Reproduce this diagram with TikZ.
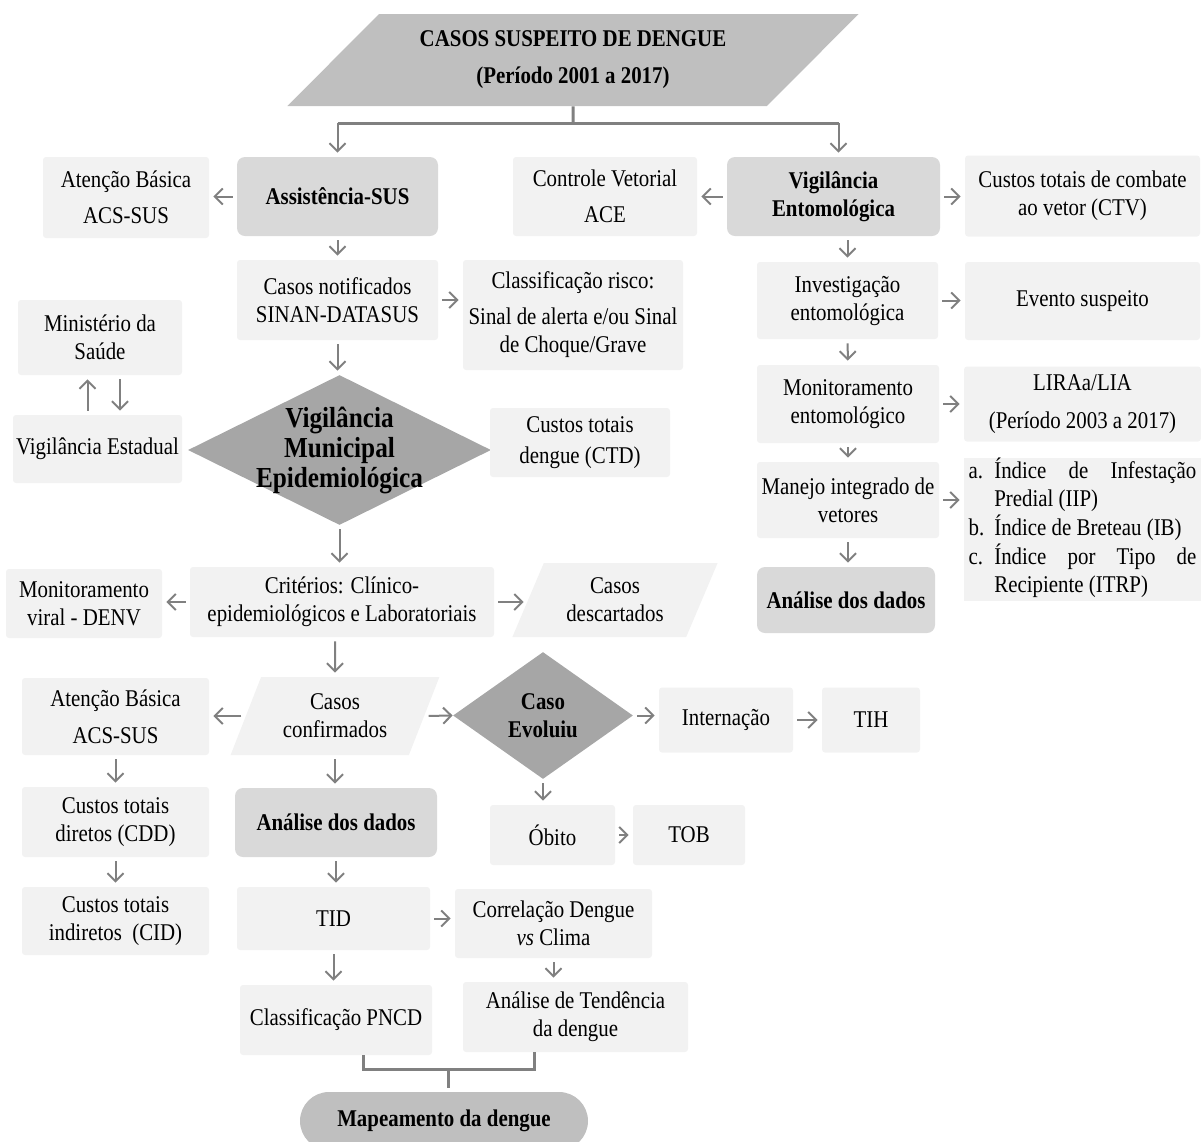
\documentclass[tikz,border=0pt]{standalone}
\usepackage{fontspec}
\setmainfont{Liberation Serif}[FakeStretch=0.87]
\usepackage{tikz}
\usetikzlibrary{arrows.meta,shapes.geometric}
\definecolor{claro}{rgb}{0.949,0.949,0.949}
\definecolor{medio}{rgb}{0.851,0.851,0.851}
\definecolor{escuro}{rgb}{0.651,0.651,0.651}
\definecolor{cinza}{rgb}{0.75,0.75,0.75}
\definecolor{traco}{rgb}{0.5,0.5,0.5}
\hyphenpenalty=10000
\exhyphenpenalty=10000
\tikzset{
  tam/.style 2 args={minimum width=#1pt, minimum height=#2pt},
  caixa/.style={fill=claro, rounded corners=1.5pt, align=center, inner sep=0pt},
  destaque/.style={fill=medio, rounded corners=4pt, align=center, inner sep=0pt, font=\fontsize{12}{14}\selectfont\bfseries},
  losango/.style={diamond, fill=escuro, inner sep=0pt},
  paralelo/.style={trapezium, trapezium left angle=64, trapezium right angle=116, trapezium stretches=true, fill=claro, align=center, inner sep=0pt},
  negrito/.style={align=center, font=\fontsize{12}{14}\selectfont\bfseries},
  seta/.style={traco, line width=1pt, -{Straight Barb[length=4pt,width=8pt]}, shorten >=2pt, shorten <=2pt},
  linha/.style={traco, line width=1.5pt}
}

\begin{document}
\begin{tikzpicture}[x=0.5pt, y=-0.5pt, every node/.style={font=\fontsize{12}{14}\selectfont}]
\useasboundingbox (0,0) rectangle (1201,1142);
\node [trapezium, trapezium left angle=38.7, trapezium right angle=141.3, trapezium stretches=true, fill=cinza, tam={286}{46}, inner sep=0pt, negrito] (casos) at (573,60) {CASOS SUSPEITO DE DENGUE\\[4.5pt](Período 2001 a 2017)};
\node [destaque, tam={100.5}{39.5}] (assist) at (337.5,196.5) {Assistência-SUS};
\node [caixa, tam={83}{40.5}] (basica) at (126,197.5) {Atenção Básica\\[4pt]ACS-SUS};
\node [caixa, tam={92}{39.5}] (controle) at (605,196.5) {Controle Vetorial\\[4pt]ACE};
\node [destaque, tam={106.5}{39.5}] (entomo) at (833.5,196.5) {Vigilância\\Entomológica};
\node [caixa, tam={117.5}{40.5}] (ctv) at (1082.5,196) {Custos totais de combate\\ao vetor (CTV)};
\node [caixa, tam={100.5}{40}] (notif) at (337.5,300) {Casos notificados\\SINAN-DATASUS};
\node [caixa, tam={110}{55}] (risco) at (573,315) {Classificação risco:\\[4pt]Sinal de alerta e/ou Sinal\\de Choque/Grave};
\node [caixa, tam={90.5}{38.5}] (invest) at (847.5,300.5) {Investigação\\entomológica};
\node [caixa, tam={117.5}{39}] (evento) at (1082.5,301) {Evento suspeito};
\node [caixa, tam={82}{37.5}] (ministerio) at (100,337.5) {Ministério da\\Saúde};
\node [caixa, tam={84.5}{34}] (estadual) at (97.5,449) {Vigilância Estadual};
\node [losango, tam={151.5}{75}, label={[negrito, font=\fontsize{14.5}{15}\selectfont\bfseries]center:Vigilância\\Municipal\\Epidemiológica}] (municipal) at (339.5,450) {};
\node [caixa, tam={90}{34.5}] (ctd) at (580,442.5) {Custos totais\\[1.5pt]dengue (CTD)};
\node [caixa, tam={91}{39}] (monit) at (848,404) {Monitoramento\\entomológico};
\node [caixa, tam={118.5}{37.5}] (lira) at (1082.5,404) {LIRAa/LIA\\[5pt](Período 2003 a 2017)};
\node [caixa, tam={91}{38}] (manejo) at (848,500) {Manejo integrado de\\vetores};
\node [fill=claro, inner sep=0pt, tam={118.5}{67.5}] (indices) at (1082.5,529.5) {\begin{tabular}{@{}l@{\hspace{5pt}}p{101pt}@{}}a. & Índice de Infestação Predial (IIP)\\ b. & Índice de Breteau (IB)\\ c. & Índice por Tipo de Recipiente (ITRP)\end{tabular}};
\node [destaque, tam={89}{33}] (analise2) at (846,600) {Análise dos dados};
\node [caixa, tam={152}{35}] (criterios) at (342,602) {Critérios: Clínico-\\epidemiológicos e Laboratoriais};
\node [caixa, tam={78}{34.5}] (viral) at (84,603.5) {Monitoramento\\viral - DENV};
\node [paralelo, tam={103}{37}] (descartados) at (615,600) {Casos\\descartados};
\node [paralelo, tam={105}{39}] (confirmados) at (335,716) {Casos\\confirmados};
\node [caixa, tam={93.5}{38.5}] (basica2) at (115.5,716.5) {Atenção Básica\\[4.5pt]ACS-SUS};
\node [losango, tam={90}{63.5}, label={[negrito]center:Caso\\Evoluiu}] (evoluiu) at (543,715.5) {};
\node [caixa, tam={67}{32.5}] (internacao) at (726,720) {Internação};
\node [caixa, tam={49}{32.5}] (tih) at (871,720) {TIH};
\node [destaque, tam={101}{34.5}] (analise1) at (336,822.5) {Análise dos dados};
\node [caixa, tam={93.5}{35}] (cdd) at (115.5,822) {Custos totais\\diretos (CDD)};
\node [caixa, tam={93.5}{34}] (cid) at (115.5,921) {Custos totais\\indiretos\ \ (CID)};
\node [caixa, tam={62.5}{30}] (obito) at (552.5,835) {Óbito};
\node [caixa, tam={56}{30}] (tob) at (689,835) {TOB};
\node [caixa, tam={96.5}{31.5}] (tid) at (333.5,918.5) {TID};
\node [caixa, tam={98.5}{34.5}] (correlacao) at (553.5,923.5) {Correlação Dengue\\\textit{vs} Clima};
\node [caixa, tam={96}{35}] (pncd) at (336,1020) {Classificação PNCD};
\node [caixa, tam={112.5}{35}] (tendencia) at (575.5,1017) {Análise de Tendência\\da dengue};
\node [fill=cinza, rounded corners=14.5pt, inner sep=0pt, tam={144}{29}, negrito] (mapa) at (444,1121) {Mapeamento da dengue};

\coordinate (bifurca) at (573,123);
\draw [linha] (casos.south) -- (bifurca);
\draw [linha] (assist.north |- bifurca) -- ([xshift=2.5pt]entomo.north |- bifurca);
\draw [seta, shorten <=0pt] (assist.north |- bifurca) -- (assist);
\draw [seta, shorten <=0pt] ([xshift=2.5pt]entomo.north |- bifurca) -- ([xshift=2.5pt]entomo.north);
\draw [seta] (assist.west) -- (assist.west -| basica.east);
\draw [seta] (assist) -- (notif);
\draw [seta] (entomo.west) -- (entomo.west -| controle.east);
\draw [seta] (entomo.east) -- (entomo.east -| ctv.west);
\draw [seta] (invest.north |- entomo.south) -- (invest);
\draw [seta] (notif.east) -- (notif.east -| risco.west);
\draw [seta] (notif.south) -- (notif.south |- municipal.north);
\draw [seta] (invest.east) -- (invest.east -| evento.west);
\draw [seta] (invest) -- (monit);
\draw [seta] (monit.east) -- (monit.east -| lira.west);
\draw [seta] (monit) -- (manejo);
\draw [seta] (manejo.east) -- (manejo.east -| indices.west);
\draw [seta] (manejo.south) -- (manejo.south |- analise2.north);
\draw [seta] ([xshift=-5pt]estadual.north) -- ([xshift=-5pt]estadual.north |- ministerio.south);
\draw [seta] ([xshift=10pt]ministerio.south) -- ([xshift=10pt]ministerio.south |- estadual.north);
\draw [seta] (municipal.south) -- (municipal.south |- criterios.north);
\draw [seta] (criterios.west) -- (criterios.west -| viral.east);
\draw [seta] (criterios.east) -- (criterios.east -| descartados.west);
\draw [seta] (confirmados.north |- criterios.south) -- (confirmados);
\draw [seta] (confirmados.west) -- (confirmados.west -| basica2.east);
\draw [seta, shorten >=0pt] (confirmados.east) -- (evoluiu.west);
\draw [seta] (evoluiu.east) -- (evoluiu.east -| internacao.west);
\draw [seta] (internacao) -- (tih);
\draw [seta] (evoluiu.south) -- (evoluiu.south |- obito.north);
\draw [seta] (obito) -- (tob);
\draw [seta] (confirmados.south) -- (confirmados.south |- analise1.north);
\draw [seta] (basica2) -- (cdd);
\draw [seta] (cdd) -- (cid);
\draw [seta] (analise1.south) -- (analise1.south |- tid.north);
\draw [seta] (tid.east) -- (tid.east -| correlacao.west);
\draw [seta] (tid.south) -- (tid.south |- pncd.north);
\draw [seta] (correlacao.south) -- (correlacao.south |- tendencia.north);
\coordinate (junta) at (448,1069);
\draw [linha] ([xshift=13.5pt]pncd.south) |- (junta) -| ([xshift=-20.75pt]tendencia.south);
\draw [linha, shorten >=2pt] (junta) -- (junta |- mapa.north);
\end{tikzpicture}
\end{document}
